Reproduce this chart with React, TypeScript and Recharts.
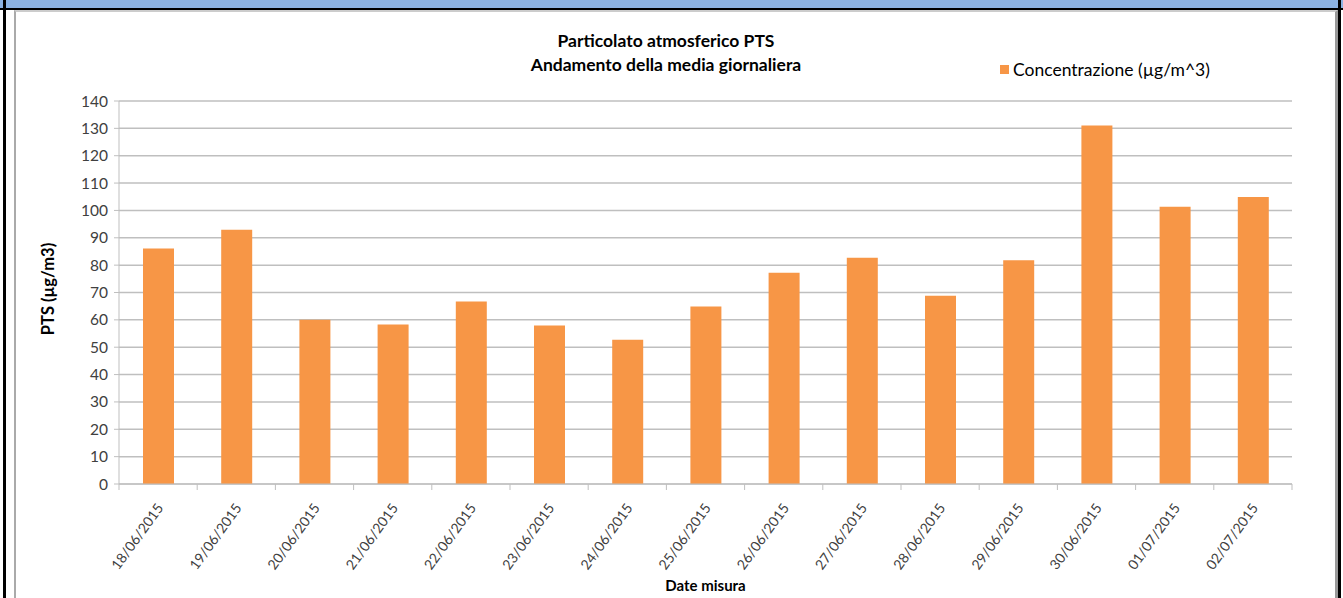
import React from 'react';
import { BarChart, Bar, XAxis, YAxis, CartesianGrid } from 'recharts';

const dates = [
  '18/06/2015', '19/06/2015', '20/06/2015', '21/06/2015', '22/06/2015',
  '23/06/2015', '24/06/2015', '25/06/2015', '26/06/2015', '27/06/2015',
  '28/06/2015', '29/06/2015', '30/06/2015', '01/07/2015', '02/07/2015',
];
const concentrazione = [86.1, 92.9, 60.0, 58.3, 66.7, 57.9, 52.7, 64.9, 77.2, 82.7, 68.8, 81.8, 131.0, 101.3, 104.9];
const yTicks = [0, 10, 20, 30, 40, 50, 60, 70, 80, 90, 100, 110, 120, 130, 140];
const seriesName = 'Concentrazione (µg/m^3)';

const data = dates.map((d, i) => ({ date: d, value: concentrazione[i] }));

const FONT = 'Lato, sans-serif';
const TEXT = '#404040';
const AXIS = '#bfbfbf';
const ORANGE = '#f79646';

const W = 1343;
const H = 598;
const PLOT_LEFT = 119;
const PLOT_RIGHT = 1292;
const BAND = (PLOT_RIGHT - PLOT_LEFT) / dates.length;

const DateTick = (props: any) => {
  const { x, y, payload, index } = props;
  const half = BAND / 2;
  const ax = x + 6;
  const ay = y + 16;
  return (
    <g>
      <line x1={x - half} y1={y - 8} x2={x - half} y2={y - 2} stroke={AXIS} />
      {index === dates.length - 1 && (
        <line x1={x + half} y1={y - 8} x2={x + half} y2={y - 2} stroke={AXIS} />
      )}
      <text
        x={ax}
        y={ay}
        textAnchor="end"
        fontSize={14}
        fontFamily={FONT}
        fill={TEXT}
        transform={`rotate(-54 ${ax} ${ay})`}
      >
        {payload.value}
      </text>
    </g>
  );
};

export default function App() {
  return (
    <div style={{ position: 'absolute', left: 0, top: 0, width: W, height: H, background: '#fff', overflow: 'hidden' }}>
      {/* outer frame */}
      <div style={{ position: 'absolute', left: 0, top: 0, width: W, height: 8, background: '#8db3e2' }} />
      <div style={{ position: 'absolute', left: 0, top: 8, width: W, height: 2, background: '#000' }} />
      <div style={{ position: 'absolute', left: 3, top: 0, width: 3, height: H, background: '#000' }} />
      <div style={{ position: 'absolute', left: 1338, top: 0, width: 3, height: H, background: '#000' }} />
      <div style={{ position: 'absolute', left: 14, top: 10, width: 1324, height: H, borderLeft: '2px solid #aaa', borderRight: '3px solid #999', borderTop: '2px solid #ccc', boxSizing: 'border-box' }} />

      <div style={{ position: 'absolute', left: 0, top: 0 }}>
        <BarChart
          width={W}
          height={H}
          data={data}
          margin={{ top: 101, right: W - PLOT_RIGHT, bottom: 24, left: PLOT_LEFT - 60 }}
        >
          <CartesianGrid vertical={false} stroke={AXIS} strokeWidth={1.5} />
          <XAxis
            dataKey="date"
            interval={0}
            height={90}
            stroke={AXIS}
            tickLine={false}
            tick={<DateTick />}
          />
          <YAxis
            width={60}
            domain={[0, 140]}
            ticks={yTicks}
            interval={0}
            stroke={AXIS}
            tickSize={5}
            tickMargin={6}
            tick={{ fontSize: 15.5, fontFamily: FONT, fill: TEXT }}
          />
          <Bar
            dataKey="value"
            name={seriesName}
            fill={ORANGE}
            barSize={31}
            isAnimationActive={false}
          />
        </BarChart>
      </div>

      {/* legend */}
      <div style={{ position: 'absolute', left: 1000, top: 59, display: 'flex', alignItems: 'center', fontFamily: FONT, fontSize: 17.5, color: '#000', whiteSpace: 'nowrap' }}>
        <span style={{ display: 'inline-block', width: 9, height: 9, background: ORANGE, marginRight: 4 }} />
        {seriesName}
      </div>

      <div style={{ position: 'absolute', left: 0, width: 1332, top: 29, textAlign: 'center', fontFamily: FONT, fontWeight: 700, fontSize: 17.5, lineHeight: '24px', color: '#000' }}>
        Particolato atmosferico PTS
        <br />
        Andamento della media giornaliera
      </div>
      <div style={{ position: 'absolute', left: (PLOT_LEFT + PLOT_RIGHT) / 2 - 100, width: 200, top: 576, textAlign: 'center', fontFamily: FONT, fontWeight: 700, fontSize: 15, color: '#000' }}>
        Date misura
      </div>
      <div style={{ position: 'absolute', left: 48 - 60, top: 279, width: 120, textAlign: 'center', transform: 'rotate(-90deg)', fontFamily: FONT, fontWeight: 700, fontSize: 16.5, color: '#000' }}>
        PTS (µg/m3)
      </div>
    </div>
  );
}
